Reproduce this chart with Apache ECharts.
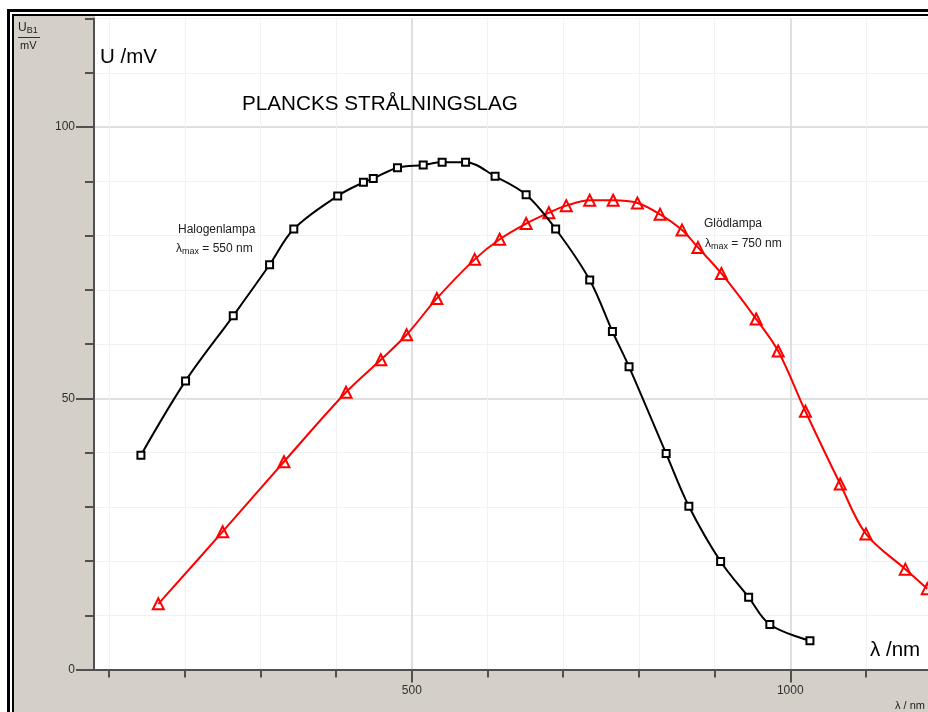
<!DOCTYPE html>
<html>
<head>
<meta charset="utf-8">
<script src="https://cdn.jsdelivr.net/npm/echarts@6/dist/echarts.min.js"></script>
<style>
html,body{margin:0;padding:0;background:#d4d0c8;}
#chart{width:928px;height:712px;}
</style>
</head>
<body>
<div id="chart"></div>
<script>
// Halogenlampa (black squares)
var halogenLambda = [142, 201, 264, 312, 344, 402, 436, 449, 481, 515, 540, 571, 610, 651, 690, 735, 765, 787, 836, 866, 908, 945, 973, 1026];
var halogenU = [39.5, 53.2, 65.2, 74.6, 81.2, 87.3, 89.8, 90.5, 92.5, 93.0, 93.5, 93.5, 90.9, 87.5, 81.2, 71.8, 62.3, 55.8, 39.8, 30.1, 19.9, 13.3, 8.3, 5.3];
// Glödlampa (red triangles)
var gluhLambda = [165, 250, 331, 413, 459, 493, 533, 583, 616, 651, 681, 704, 735, 766, 798, 828, 857, 878, 909, 955, 984, 1020, 1066, 1100, 1152, 1181];
var gluhU = [12.1, 25.4, 38.3, 51.1, 57.1, 61.7, 68.4, 75.6, 79.3, 82.2, 84.2, 85.5, 86.5, 86.5, 86.0, 83.9, 81.0, 77.8, 73.0, 64.6, 58.7, 47.6, 34.2, 25.0, 18.5, 14.9];
// tick values
var xMinorTicks = [100, 200, 300, 400, 500, 600, 700, 800, 900, 1000, 1100];
var xMajorTicks = [500, 1000];
var yMajorTicks = [0, 50, 100];

function pairs(xs, ys) { return xs.map(function (x, i) { return [x, ys[i]]; }); }
function plain(v) { return String(v); }

var chart = echarts.init(document.getElementById('chart'), null, {renderer: 'canvas'});
var FONT = '"Liberation Sans", Arial, sans-serif';
var xMin = 80, xMax = 1182;

chart.setOption({
  backgroundColor: '#d4d0c8',
  animation: false,
  grid: {left: 94, top: 18.5, right: 0, bottom: 42.5, show: true, backgroundColor: '#ffffff', borderWidth: 0},
  xAxis: [
    {
      type: 'value', min: xMin, max: xMax, position: 'bottom', interval: 100,
      axisLine: {show: true, lineStyle: {color: '#505050', width: 2}},
      axisTick: {show: true, customValues: xMinorTicks, length: 8, lineStyle: {color: '#505050', width: 2}},
      axisLabel: {show: false},
      splitLine: {show: true, lineStyle: {color: '#f1f1f1', width: 1}}
    },
    {
      type: 'value', min: xMin, max: xMax, position: 'bottom', offset: 0, interval: 100,
      axisLine: {show: false},
      axisTick: {show: true, customValues: xMajorTicks, length: 13, lineStyle: {color: '#505050', width: 2}},
      axisLabel: {show: true, customValues: xMajorTicks, formatter: plain, margin: 15, color: '#303030', fontSize: 12, fontFamily: FONT},
      splitLine: {show: true, lineStyle: {color: '#d6d6d6', width: 1.5}}
    }
  ],
  yAxis: [
    {
      type: 'value', min: 0, max: 120, interval: 10, position: 'left',
      axisLine: {show: true, lineStyle: {color: '#505050', width: 2}},
      axisTick: {show: true, length: 9, lineStyle: {color: '#505050', width: 2}},
      axisLabel: {show: false},
      splitLine: {show: true, lineStyle: {color: '#f1f1f1', width: 1}}
    },
    {
      type: 'value', min: 0, max: 120, interval: 10, position: 'left', offset: 0,
      axisLine: {show: false},
      axisTick: {show: true, customValues: yMajorTicks, length: 18, lineStyle: {color: '#505050', width: 2}},
      axisLabel: {show: true, customValues: yMajorTicks, formatter: plain, margin: 19, color: '#303030', fontSize: 12, fontFamily: FONT},
      splitLine: {show: true, lineStyle: {color: '#d6d6d6', width: 1.5}}
    }
  ],
  series: [
    {
      name: 'Halogenlampa', type: 'line', xAxisIndex: 0, yAxisIndex: 0,
      data: pairs(halogenLambda, halogenU), smooth: 0.35,
      symbol: 'rect', symbolSize: 7,
      itemStyle: {color: '#ffffff', borderColor: '#000000', borderWidth: 2},
      lineStyle: {color: '#000000', width: 2}, z: 3
    },
    {
      name: 'Glödlampa', type: 'line', xAxisIndex: 0, yAxisIndex: 0,
      data: pairs(gluhLambda, gluhU), smooth: 0.35,
      symbol: 'triangle', symbolSize: 11,
      itemStyle: {color: 'rgba(255,255,255,0)', borderColor: '#ff0000', borderWidth: 2},
      lineStyle: {color: '#ff0000', width: 2}, z: 2
    }
  ],
  graphic: [
    // white strip above the plot top
    {type: 'rect', shape: {x: 95, y: 15, width: 840, height: 3}, style: {fill: '#ffffff'}, z: 0},
    // double frame
    {type: 'rect', shape: {x: 7, y: 9, width: 940, height: 3}, style: {fill: '#000'}, z: 100},
    {type: 'rect', shape: {x: 7, y: 9, width: 3, height: 720}, style: {fill: '#000'}, z: 100},
    {type: 'rect', shape: {x: 10, y: 12, width: 940, height: 2}, style: {fill: '#fff'}, z: 100},
    {type: 'rect', shape: {x: 10, y: 12, width: 2, height: 720}, style: {fill: '#fff'}, z: 100},
    {type: 'rect', shape: {x: 12, y: 14, width: 940, height: 2}, style: {fill: '#000'}, z: 100},
    {type: 'rect', shape: {x: 12, y: 14, width: 2, height: 720}, style: {fill: '#000'}, z: 100},
    {type: 'rect', shape: {x: 0, y: 0, width: 928, height: 9}, style: {fill: '#ffffff'}, z: 100},
    {type: 'rect', shape: {x: 0, y: 0, width: 7, height: 712}, style: {fill: '#ffffff'}, z: 100},
    // unit label in the gray area
    {type: 'text', left: 18, top: 22, z: 101, style: {text: '{u|U}{s|B1}', rich: {u: {fontSize: 12, fontFamily: FONT, fill: '#202020'}, s: {fontSize: 9, fontFamily: FONT, fill: '#202020', padding: [5, 0, 0, 0]}}}},
    {type: 'rect', shape: {x: 18, y: 37, width: 22, height: 1}, style: {fill: '#303030'}, z: 101},
    {type: 'text', left: 20, top: 40, z: 101, style: {text: 'mV', fontSize: 11, fontFamily: FONT, fill: '#202020'}},
    // texts in the plot
    {type: 'text', left: 100, top: 47, z: 50, style: {text: 'U /mV', fontSize: 20.5, fontFamily: FONT, fill: '#000'}},
    {type: 'text', left: 242, top: 94, z: 50, style: {text: 'PLANCKS STRÅLNINGSLAG', fontSize: 20.7, fontFamily: FONT, fill: '#000'}},
    {type: 'text', left: 178, top: 224, z: 50, style: {text: 'Halogenlampa', fontSize: 12, fontFamily: FONT, fill: '#202020'}},
    {type: 'text', left: 176, top: 243, z: 50, style: {text: '{l|λ}{s|max}{l| = 550 nm}', rich: {l: {fontSize: 12, fontFamily: FONT, fill: '#202020'}, s: {fontSize: 9, fontFamily: FONT, fill: '#202020', padding: [5, 0, 0, 0]}}}},
    {type: 'text', left: 704, top: 218, z: 50, style: {text: 'Glödlampa', fontSize: 12, fontFamily: FONT, fill: '#202020'}},
    {type: 'text', left: 705, top: 238, z: 50, style: {text: '{l|λ}{s|max}{l| = 750 nm}', rich: {l: {fontSize: 12, fontFamily: FONT, fill: '#202020'}, s: {fontSize: 9, fontFamily: FONT, fill: '#202020', padding: [5, 0, 0, 0]}}}},
    {type: 'text', left: 870, top: 640, z: 50, style: {text: 'λ /nm', fontSize: 20.5, fontFamily: FONT, fill: '#000'}},
    {type: 'text', left: 895, top: 700, z: 50, style: {text: 'λ / nm', fontSize: 11, fontFamily: FONT, fill: '#202020'}}
  ]
});
</script>
</body>
</html>
